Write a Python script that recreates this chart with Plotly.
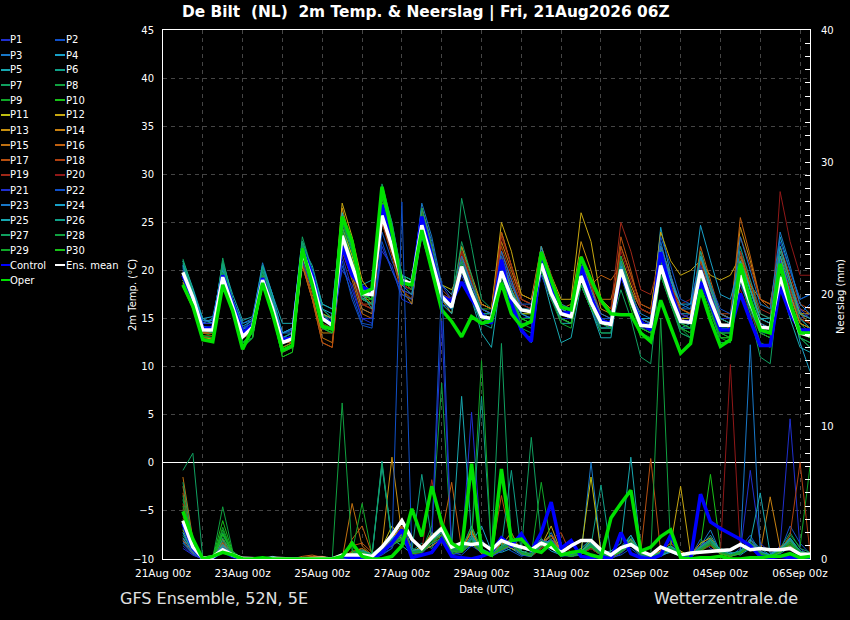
import plotly.graph_objects as go
import pandas as pd

# ---------------- time axis ----------------
run_first_step = "2026-08-21 12:00"
n_steps = 64
x_start = "2026-08-21 00:00"
x_end = "2026-09-06 06:00"

# ---------------- temperature (deg C), 6-hourly ----------------
t_mean = [19.8,17.2,13.8,13.8, 19.3,16.2,13.1,14.1, 19.0,16.1,12.5,12.9, 22.0,19.0,15.0,14.3, 23.6,20.5,17.6,17.5, 25.7,22.5,19.0,18.6, 24.7,21.1,17.3,16.2, 20.4,17.6,15.2,15.0, 19.9,17.2,15.9,15.7, 20.7,17.6,15.5,15.2, 19.4,16.7,14.6,14.4, 20.1,17.0,14.3,14.2, 20.5,17.3,14.7,14.6, 20.0,16.9,14.3,14.3, 19.5,16.6,14.1,14.0, 19.3,16.3,13.5,13.2]
t_ctrl = [19.5,17.0,14.0,14.0, 19.5,16.5,13.5,14.3, 19.2,16.0,12.8,13.0, 22.3,19.5,15.0,14.5, 22.5,19.5,18.3,17.8, 26.8,23.0,19.0,18.5, 25.6,21.5,17.3,16.8, 18.8,17.0,15.5,14.5, 21.1,16.6,13.8,12.6, 21.8,18.3,15.5,15.7, 20.4,17.3,14.8,14.5, 19.7,17.0,14.7,13.8, 21.9,18.0,14.7,14.7, 18.8,16.6,13.8,13.8, 17.6,14.8,12.2,12.2, 18.3,15.5,13.8,13.8]
t_oper = [18.5,16.3,12.8,12.6, 18.5,15.8,11.8,14.0, 18.7,15.5,11.7,12.2, 22.3,18.5,14.2,13.9, 25.6,23.0,17.6,18.1, 28.7,24.0,18.7,18.5, 24.2,20.0,15.9,14.7, 13.1,15.2,14.5,14.8, 18.7,15.5,14.2,14.7, 21.9,19.0,16.2,15.9, 21.4,19.0,16.9,15.5, 15.4,15.4,13.5,12.6, 16.9,14.1,11.4,12.4, 18.0,14.8,12.1,12.8, 20.7,16.9,13.8,13.5, 20.7,16.6,13.5,13.5]

t_p01 = [19.5,17.0,14.0,14.2, 19.0,16.0,13.5,14.3, 18.8,15.8,12.8,13.2, 21.5,18.5,15.5,14.8, 20.0,18.5,15.0,14.5, 22.0,20.5,17.0,16.5, 25.5,22.0,17.5,16.5, 19.5,17.0,15.0,14.8, 19.0,16.5,15.0,15.2, 21.0,17.5,16.0,15.5, 18.5,16.0,14.0,14.2, 19.5,16.5,14.0,13.8, 20.5,17.0,15.0,15.5, 21.5,18.0,15.0,14.5, 18.5,16.0,13.5,13.5, 20.5,17.5,15.0,15.5]
t_p02 = [20.2,17.5,14.2,14.0, 19.8,16.8,13.8,14.6, 19.5,16.5,13.0,13.5, 22.5,19.0,15.0,14.0, 21.0,17.0,14.3,14.0, 24.0,21.0,18.5,18.0, 24.0,20.5,17.0,16.0, 21.5,18.5,16.5,16.0, 20.5,18.0,16.0,15.5, 20.0,17.0,15.0,14.5, 19.0,16.5,14.5,14.8, 20.0,17.0,14.0,14.5, 22.0,19.0,16.0,16.5, 20.0,17.0,15.0,15.0, 20.5,17.5,14.0,13.5, 21.0,18.0,15.5,16.5]
t_p03 = [20.5,17.8,14.5,14.5, 20.0,17.0,14.5,15.0, 19.5,16.8,13.0,13.0, 22.0,19.5,15.5,15.0, 22.5,19.5,16.0,15.5, 25.0,22.0,19.5,19.0, 26.5,23.0,18.0,17.0, 21.0,18.0,15.5,15.0, 21.0,18.5,16.5,16.0, 22.0,18.5,16.0,15.5, 20.0,17.0,15.0,14.5, 20.5,17.5,15.5,15.0, 23.0,19.0,16.0,16.0, 21.0,18.0,15.5,15.0, 20.0,17.0,14.5,14.0, 20.0,18.0,15.0,14.0]
t_p04 = [20.0,17.5,14.5,15.0, 19.5,16.5,14.0,14.5, 19.5,16.0,13.5,13.8, 22.5,19.0,15.5,14.5, 23.5,20.0,17.0,17.5, 26.5,23.0,19.0,18.5, 24.0,21.0,17.5,17.0, 20.0,17.5,15.5,15.5, 20.5,17.5,16.0,16.0, 20.0,17.0,15.5,15.0, 18.5,16.0,14.5,14.5, 19.5,16.5,14.5,14.0, 24.5,19.5,15.5,15.5, 20.0,17.0,14.0,14.0, 22.0,18.0,15.0,15.0, 23.5,20.0,17.0,17.5]
t_p05 = [21.0,18.0,14.8,14.8, 20.5,17.0,14.0,14.0, 20.5,17.5,13.0,13.5, 22.5,20.5,16.5,16.0, 26.0,22.0,18.5,19.0, 26.0,22.5,19.0,18.5, 23.5,20.0,17.0,16.5, 20.0,17.0,14.5,14.5, 20.0,17.0,14.0,12.5, 20.0,16.0,12.5,13.0, 18.5,16.0,13.5,13.5, 20.0,16.5,14.0,13.5, 19.5,16.5,14.0,14.5, 19.0,16.0,13.5,13.5, 19.0,16.0,13.5,13.0, 18.5,15.0,12.0,11.5]
t_p06 = [20.8,17.8,14.8,14.5, 21.0,17.0,13.0,13.5, 19.5,16.5,12.0,12.5, 22.5,19.5,15.5,14.5, 24.0,21.0,18.0,18.0, 27.0,23.5,19.5,19.0, 25.5,21.5,17.0,15.5, 21.5,18.5,15.5,15.5, 19.5,17.0,15.5,15.0, 21.0,18.0,15.5,15.0, 20.0,17.5,14.0,14.0, 21.0,17.5,14.5,14.0, 22.5,18.5,15.0,14.5, 21.5,17.0,14.0,14.0, 20.0,17.0,14.5,14.0, 19.5,16.5,13.0,12.0]
t_p07 = [21.2,18.0,14.0,13.5, 21.3,17.0,12.5,13.5, 20.5,17.0,13.5,14.0, 23.5,20.0,15.5,15.0, 25.0,22.0,18.0,17.5, 28.5,24.5,19.0,18.5, 25.0,21.5,17.0,16.0, 27.5,22.5,17.0,16.0, 20.5,18.0,16.0,15.5, 21.5,18.0,15.5,15.0, 19.5,17.0,15.0,15.0, 21.0,17.5,15.0,14.5, 20.0,16.5,13.5,13.0, 20.5,17.0,14.5,14.0, 21.5,18.0,14.5,14.0, 21.5,17.5,14.5,13.5]
t_p08 = [19.0,16.5,13.5,13.5, 20.5,16.5,12.0,13.0, 20.0,16.5,12.0,12.5, 23.0,20.0,16.0,15.0, 25.0,21.5,17.0,16.5, 27.0,23.5,19.5,19.0, 26.0,22.5,18.0,17.0, 22.5,19.0,16.0,15.5, 21.0,18.0,14.0,13.5, 22.5,18.5,15.5,15.0, 20.0,16.5,13.5,13.5, 21.0,17.5,14.5,14.5, 21.5,17.5,14.0,13.0, 20.0,16.5,13.0,13.0, 19.5,16.0,12.5,12.0, 20.5,17.0,14.0,13.0]
t_p09 = [19.5,17.0,13.5,13.2, 19.0,16.0,12.5,13.5, 19.0,16.0,12.0,12.5, 21.0,18.5,14.5,14.0, 24.5,21.0,17.5,17.0, 25.5,22.0,18.5,18.0, 24.5,21.0,17.0,16.5, 21.5,18.5,16.0,16.0, 20.5,17.5,15.5,15.5, 21.0,17.5,15.0,14.5, 19.0,16.5,15.0,15.0, 20.0,17.0,14.0,13.5, 20.0,17.0,14.5,14.5, 19.5,16.0,13.5,13.5, 19.0,16.5,14.0,14.0, 19.5,16.5,14.5,14.0]
t_p10 = [18.7,16.5,13.0,13.0, 18.5,16.0,13.0,14.0, 18.5,15.5,11.5,12.0, 22.0,18.5,14.5,14.0, 22.5,20.0,17.0,17.0, 26.5,23.0,19.0,18.5, 24.5,21.5,17.5,16.5, 20.5,17.5,15.0,15.0, 19.5,17.0,15.0,14.5, 20.5,17.5,15.5,15.0, 18.5,16.0,14.0,14.0, 19.5,16.0,13.0,13.0, 20.5,17.0,14.0,13.5, 18.5,15.5,13.0,13.0, 20.0,16.5,13.5,13.0, 18.5,16.0,13.0,12.5]
t_p11 = [19.0,16.5,12.8,13.0, 19.5,16.5,13.5,14.0, 19.5,16.0,12.5,13.0, 22.5,19.0,15.0,14.5, 24.5,21.5,18.0,17.5, 25.5,22.5,19.0,18.5, 25.0,21.5,18.5,18.0, 20.0,17.5,15.5,15.0, 21.0,18.0,15.5,15.5, 22.0,18.5,16.0,15.5, 21.5,18.0,15.0,14.5, 20.5,17.5,15.0,15.0, 21.0,18.0,15.0,15.0, 20.0,17.0,14.5,14.0, 20.0,17.0,14.5,14.0, 20.0,17.5,14.5,14.0]
t_p12 = [20.0,17.5,14.0,14.0, 19.5,16.5,13.5,14.0, 19.5,16.0,12.5,13.0, 22.0,19.5,15.5,15.0, 27.0,23.5,19.0,17.5, 26.5,23.0,19.0,18.0, 25.0,22.0,18.5,17.5, 21.5,19.0,16.5,16.0, 25.0,22.0,17.5,17.0, 22.5,19.5,17.0,17.0, 26.0,23.0,17.0,16.0, 21.5,18.5,16.0,15.5, 24.0,21.0,19.5,20.0, 21.0,19.5,19.0,19.5, 21.5,18.5,17.0,16.5, 21.0,18.0,15.5,15.5]
t_p13 = [19.3,17.0,13.5,13.5, 19.0,16.0,13.0,13.8, 18.5,16.0,12.5,13.0, 21.5,18.5,15.0,14.5, 26.5,22.5,17.5,16.5, 27.0,23.0,18.0,16.5, 25.0,21.5,17.5,16.5, 22.5,19.5,16.5,16.0, 24.0,20.5,17.5,17.0, 20.5,17.5,16.0,16.5, 23.0,20.0,16.0,15.5, 22.5,19.5,16.5,16.0, 22.5,19.5,16.0,15.5, 21.5,18.5,15.5,15.0, 24.5,21.0,17.0,16.5, 22.5,19.0,15.5,14.5]
t_p14 = [18.8,16.5,13.5,13.5, 19.5,16.5,13.5,14.0, 19.0,16.0,12.5,13.0, 20.5,17.0,13.5,13.5, 24.0,20.5,16.5,16.0, 25.5,22.0,18.5,18.0, 26.5,22.5,17.0,15.5, 22.0,19.0,16.0,15.5, 23.0,20.0,17.0,16.5, 21.5,18.0,15.5,15.5, 21.5,18.5,15.0,14.5, 21.0,18.0,15.0,14.5, 20.0,17.5,15.0,14.5, 22.0,18.5,15.0,14.5, 21.0,18.0,15.0,14.5, 21.5,18.5,15.5,15.0]
t_p15 = [18.5,16.5,13.0,13.0, 18.8,16.0,13.0,13.8, 18.5,15.5,12.0,12.5, 21.0,17.5,13.0,12.5, 22.5,19.5,16.0,15.5, 25.5,22.0,18.0,17.5, 24.5,21.5,17.5,16.5, 21.0,18.5,16.5,16.0, 21.5,18.5,16.0,15.5, 20.5,17.5,15.0,14.5, 20.5,18.5,17.0,17.0, 21.0,18.0,15.0,14.5, 21.5,18.5,16.0,15.5, 21.0,18.0,15.5,15.0, 22.0,18.5,15.0,14.5, 20.5,17.5,14.5,14.0]
t_p16 = [18.3,16.0,12.8,12.8, 18.5,15.8,13.0,13.5, 18.5,15.5,11.5,12.0, 20.5,17.0,12.5,12.0, 22.0,19.0,15.5,15.0, 26.0,22.5,18.0,17.0, 24.0,21.0,17.5,17.0, 20.5,17.5,15.5,15.0, 22.0,19.0,16.0,15.5, 21.0,18.0,15.5,15.0, 20.0,18.5,19.5,19.0, 20.5,18.0,16.0,15.5, 21.0,18.0,15.5,15.0, 22.5,19.0,15.5,15.0, 25.5,21.5,17.0,16.0, 21.0,18.0,15.0,14.5]
t_p17 = [18.5,16.2,13.2,13.2, 18.8,16.0,13.5,14.0, 18.8,16.0,12.5,12.5, 21.0,17.0,12.5,12.0, 23.0,20.0,16.5,16.0, 25.0,21.5,17.5,17.0, 25.0,21.5,17.0,16.5, 21.5,18.5,16.0,15.5, 24.0,20.5,17.0,16.5, 21.5,18.0,15.5,15.0, 20.5,17.5,15.0,15.0, 23.5,20.0,16.0,15.5, 21.0,18.5,16.0,15.5, 20.5,17.5,15.0,14.5, 21.5,18.5,15.5,15.0, 22.0,19.0,16.0,15.5]
t_p18 = [19.0,16.8,13.5,13.5, 19.2,16.5,13.5,14.0, 19.5,16.5,12.5,13.0, 21.5,18.0,14.0,13.5, 23.0,20.0,16.5,16.5, 25.0,22.0,18.5,18.0, 25.5,22.0,17.5,16.5, 22.0,19.0,16.0,15.5, 22.5,19.5,16.5,16.0, 22.0,19.0,16.0,15.5, 21.5,18.5,15.5,15.0, 22.5,19.5,16.5,16.0, 20.5,17.5,15.0,14.5, 21.0,18.0,15.5,15.5, 23.5,20.5,17.0,16.5, 22.5,19.5,16.5,16.0]
t_p19 = [19.3,17.0,13.8,13.8, 19.5,16.5,13.5,14.0, 19.0,16.0,12.5,13.0, 21.5,18.5,15.0,14.5, 23.5,20.5,17.0,16.5, 25.0,22.0,18.5,18.0, 24.5,21.5,17.5,17.0, 21.5,18.5,16.0,15.5, 23.5,20.5,17.0,16.5, 22.5,19.5,16.5,16.0, 21.5,18.5,16.5,16.0, 25.0,22.0,18.0,17.5, 21.5,18.5,15.5,15.0, 20.5,17.5,14.5,14.0, 22.0,19.0,16.0,15.5, 21.0,18.0,15.0,14.5]
t_p20 = [19.5,17.2,14.0,14.0, 19.5,16.5,13.5,14.0, 19.0,16.0,12.5,13.0, 21.0,18.0,14.5,14.0, 23.0,20.0,16.5,16.0, 25.5,22.5,18.5,18.0, 25.0,22.0,18.0,17.0, 22.0,19.0,16.0,15.5, 22.0,19.0,16.5,16.0, 21.0,18.0,15.5,15.0, 20.5,17.5,15.0,15.0, 22.0,19.0,16.0,15.5, 21.0,18.0,16.5,17.0, 20.0,17.0,15.0,14.5, 18.0,15.5,13.5,13.0, 28.2,23.0,19.5,19.5]
t_p21 = [20.0,17.5,14.5,14.5, 19.0,16.5,14.0,14.5, 18.5,16.0,13.5,14.0, 22.0,18.5,14.0,13.5, 21.5,18.0,15.0,15.0, 22.5,20.0,18.0,17.5, 25.0,22.0,18.5,17.0, 20.0,17.5,15.5,15.0, 20.5,17.5,15.5,15.0, 19.5,17.0,15.0,15.0, 18.5,16.0,14.0,14.0, 20.0,17.0,14.5,14.5, 21.0,18.0,15.5,15.0, 20.5,17.5,15.0,15.0, 19.0,16.5,14.0,13.5, 21.0,18.5,16.0,15.0]
t_p22 = [20.3,17.6,14.6,14.8, 19.5,16.5,14.0,14.8, 19.0,16.5,13.5,13.8, 21.0,18.0,14.0,13.5, 20.5,17.5,14.5,14.3, 23.0,20.0,17.5,17.0, 24.0,20.5,16.5,16.0, 21.0,18.5,16.0,15.5, 21.5,18.5,16.5,16.5, 21.0,18.0,16.0,16.0, 20.0,17.0,15.0,15.0, 21.0,18.0,15.0,14.5, 23.5,20.5,17.0,16.5, 21.5,18.5,16.0,15.5, 19.5,17.0,14.5,14.0, 23.0,20.0,17.0,17.5]
t_p23 = [20.5,18.0,14.8,14.8, 20.5,17.0,14.5,14.8, 20.8,17.5,13.5,13.5, 22.5,19.5,15.0,14.5, 23.5,20.5,17.0,16.5, 28.5,25.0,19.5,18.5, 27.0,23.5,18.5,17.5, 21.5,18.5,16.0,15.5, 22.0,19.0,16.0,15.5, 21.5,18.5,16.5,16.0, 21.0,18.0,15.5,15.0, 20.5,17.5,15.0,14.5, 22.5,19.5,16.5,16.0, 21.5,18.5,15.5,15.0, 23.5,20.0,16.5,16.0, 24.0,20.5,16.5,15.5]
t_p24 = [20.6,17.8,15.0,15.2, 20.0,16.8,14.2,14.8, 20.0,17.0,13.5,14.0, 23.0,20.0,16.0,15.5, 25.5,22.0,18.0,17.5, 26.0,22.5,19.0,18.5, 24.5,21.0,17.0,16.0, 21.0,18.0,15.5,15.0, 21.0,18.0,15.5,15.0, 22.5,19.0,16.0,15.5, 19.5,17.0,14.5,14.0, 20.5,17.5,15.0,15.0, 22.0,19.0,16.5,16.5, 24.7,21.0,17.5,17.0, 21.0,18.0,15.0,14.5, 21.5,17.5,12.5,9.5]
t_p25 = [21.0,18.2,15.0,14.5, 20.8,17.5,14.8,15.2, 20.5,17.5,14.5,14.5, 22.5,20.0,16.5,16.0, 26.0,22.5,17.5,16.0, 26.5,23.0,18.5,17.5, 24.0,20.5,16.5,15.5, 20.5,17.0,13.5,12.0, 19.5,16.5,13.5,13.0, 21.0,17.5,14.5,14.5, 19.0,16.0,13.0,13.0, 20.0,17.0,14.5,14.0, 20.5,17.5,14.0,14.0, 21.5,18.0,15.0,14.5, 21.0,18.0,15.0,14.5, 22.5,19.0,15.5,15.0]
t_p26 = [20.4,17.5,14.2,14.0, 20.5,17.0,12.5,13.0, 20.5,17.0,13.0,13.5, 23.0,20.0,16.0,15.0, 23.5,20.5,17.5,17.0, 27.5,24.0,19.5,19.0, 25.0,21.5,17.5,16.5, 20.0,17.0,14.5,14.0, 20.5,17.5,15.0,14.5, 21.5,18.0,15.0,14.5, 20.5,17.5,14.5,14.5, 21.0,17.5,14.5,14.0, 21.5,18.0,14.5,14.0, 22.0,18.5,15.0,14.5, 22.5,19.0,15.5,15.0, 22.0,18.5,15.0,14.0]
t_p27 = [21.0,17.8,13.8,13.5, 21.0,16.5,12.0,13.0, 20.0,16.5,12.5,13.0, 23.0,19.5,15.0,14.5, 24.5,21.0,17.0,16.5, 29.0,25.0,19.5,18.5, 26.5,22.5,17.5,16.5, 23.0,19.5,15.5,14.5, 20.0,17.0,14.5,14.5, 20.5,17.5,15.5,15.0, 19.5,16.5,14.0,14.0, 18.0,15.0,11.0,10.3, 20.5,17.0,13.5,13.0, 19.5,16.0,12.5,12.5, 19.0,15.5,11.0,10.3, 19.5,16.0,13.0,12.5]
t_p28 = [19.8,17.0,13.2,13.0, 19.8,16.0,12.0,13.0, 19.5,16.0,11.5,12.0, 22.5,19.5,15.5,14.5, 25.5,22.0,17.5,17.0, 28.0,24.5,19.0,18.0, 25.5,22.0,17.5,16.5, 21.0,18.0,15.0,14.5, 20.0,17.0,14.5,14.0, 22.0,18.5,15.5,15.0, 20.0,17.5,15.0,14.5, 21.5,18.0,14.5,14.0, 21.0,17.5,14.0,13.5, 20.0,16.5,13.5,13.0, 20.5,17.0,13.5,13.0, 20.0,16.5,13.0,12.0]
t_p29 = [19.0,16.8,13.2,13.0, 18.8,16.0,12.5,13.5, 18.5,15.5,11.0,11.5, 21.5,18.5,14.0,13.5, 24.0,21.0,17.5,17.0, 27.0,23.5,19.0,18.5, 24.0,20.5,17.0,16.5, 20.5,17.5,15.5,15.0, 19.0,16.5,15.0,15.0, 20.0,17.0,14.5,14.0, 19.0,16.5,14.5,14.0, 20.0,16.5,13.5,13.0, 19.5,16.5,14.0,13.5, 19.0,16.0,13.0,12.5, 19.5,16.5,13.5,13.0, 19.5,16.5,13.5,13.0]
t_p30 = [18.6,16.5,12.8,12.8, 18.5,15.5,12.0,13.0, 18.5,15.5,11.0,11.5, 22.0,18.5,14.0,13.5, 23.0,20.5,17.5,17.0, 27.5,24.0,19.5,18.5, 24.5,21.0,17.5,16.5, 20.5,17.5,15.0,14.5, 19.5,17.0,15.0,14.5, 20.5,17.5,15.0,14.5, 18.5,16.0,14.5,14.5, 19.5,16.5,14.0,13.5, 20.5,17.5,14.5,14.0, 19.5,16.5,13.5,13.0, 20.0,17.0,14.0,13.5, 19.5,16.5,13.5,13.0]

# ---------------- precipitation (mm per 6 h) ----------------
r_mean = [2.9,0.9,0.05,0.15,0.7,0.3,0.05,0, 0,0.05,0,0,0,0.05,0.05,0, 0.3,0.3,0.3,0.2,0.9,1.8,2.9,1.5, 0.8,1.6,2.3,0.9,1.2,1.1,1.2,0.7, 1.4,1.1,0.9,0.7,1.2,0.9,0.5,1.0, 1.4,1.4,0.7,0.3,0.85,1.1,0.6,0.3, 0.9,0.6,0.3,0.45,0.5,0.6,0.6,0.7, 1.1,0.7,0.8,0.7,0.7,0.8,0.35,0.35]
r_ctrl = [2.7,0.8,0,0.1,0.6,0.2,0,0, 0,0,0,0,0,0,0,0, 0.2,0.1,0,0,0.5,1.2,2.2,0.1, 0.3,0.5,1.5,0.2,0.1,0,0.2,0.5, 1.6,1.0,1.9,0.6,2.0,4.3,0.8,1.4, 0.2,0.1,0.2,0,2.0,0.4,0.1,0, 0.3,1.8,0.2,0,4.9,2.8,2.3,1.9, 1.5,1.0,0.2,0.1,0.2,0.1,0,0]
r_oper = [3.6,1.5,0,0.2,0.5,0.3,0,0, 0.1,0,0,0,0,0,0,0, 0.2,1.2,0.2,0,0,0.2,1.0,3.8, 1.7,5.5,2.7,1.2,0.7,7.2,0.6,0.3, 6.8,1.4,1.5,0.7,0.5,1.2,0.3,0.5, 0.6,0.3,0.1,3.1,4.2,5.2,0.6,0.9, 1.7,2.2,0.1,0,0.1,0.1,0.2,0, 0,0.1,0.1,0.2,0.2,0.4,0.1,0.2]

r_p01 = [0.8,0.3,0,0.1,0.6,0.2,0,0, 0,0,0,0,0,0,0,0, 0,0.3,0.2,0,0.5,1.0,1.5,0.3, 0.4,1.2,2.0,0.3,0.5,11.1,0.8,0.2, 0.6,1.5,0.4,0.2,1.0,1.8,0.3,0.2, 0.5,0.8,0.3,0,0.4,1.2,0.2,0, 0.3,0.6,0.2,0.1,0.8,1.5,0.6,0.3, 0.5,1.2,0.3,0.2,1.0,10.6,0.8,0.2]
r_p02 = [1.5,0.6,0,0,0.8,0.3,0,0, 0,0,0,0,0,0,0,0, 0,0.2,0.1,0,0.3,0.8,2.5,0.6, 0.8,1.5,21.0,0.5,0.3,1.0,1.5,0.4, 1.0,0.6,0.2,0.5,1.5,0.8,0.2,0.3, 0.6,1.2,0.4,0.1,0.3,0.8,0.2,0.1, 0.5,1.0,0.3,0.2,1.5,0.8,0.4,0.2, 0.8,1.8,0.5,0.3,0.6,2.5,1.2,0.4]
r_p03 = [2.0,0.5,0,0.1,1.0,0.3,0,0, 0,0.1,0,0,0,0,0,0, 0,0,0.3,0.1,0.6,1.2,3.0,0.8, 0.5,2.0,1.5,0.6,0.8,2.5,0.5,0.3, 0.8,1.2,0.5,0.3,0.9,2.0,0.5,0.2, 0.3,7.3,0.6,0.2,0.5,1.0,0.3,0, 0.4,0.8,0.3,0.2,1.0,2.2,0.5,0.2, 0.4,0.9,0.2,0.1,0.5,1.5,0.6,0.3]
r_p04 = [1.2,0.4,0,0,0.7,0.2,0,0.1, 0,0,0,0,0,0,0,0, 0,0.1,0.4,0.2,0.8,1.5,2.0,0.5, 0.6,1.0,2.5,0.8,0.5,1.2,2.5,0.6, 0.5,0.8,0.3,0.2,1.2,0.6,0.3,0.4, 0.8,1.5,0.5,0.2,0.6,1.8,0.4,0.1, 0.2,0.6,0.2,0.4,0.9,1.2,0.8,0.5, 0.3,0.8,0.4,0.2,0.6,1.0,0.5,0.2]
r_p05 = [2.5,0.8,0,0.1,0.9,0.4,0,0, 0,0.2,0,0,0,0,0,0, 0,0.2,0.5,0.3,7.0,1.5,1.0,0.4, 0.8,1.5,1.8,0.5,0.9,2.0,0.6,0.3, 0.6,1.0,0.4,0.8,1.5,1.0,0.4,0.2, 0.4,0.9,0.5,0.6,1.2,7.7,0.6,0.2, 0.3,0.5,0.2,0.3,1.0,1.8,0.6,0.3, 0.5,1.5,0.8,0.3,0.4,0.9,0.3,0.2]
r_p06 = [1.8,0.6,0,0,1.2,0.3,0.1,0, 0,0,0,0,0,0,0,0, 0,0.3,0.6,0.2,0.5,1.0,1.8,0.6, 1.2,0.8,2.2,1.0,0.6,1.5,12.3,0.5, 0.8,1.5,0.4,0.3,1.2,0.8,0.3,0.5, 0.6,1.0,5.6,0.4,0.8,1.5,0.5,0.2, 0.4,0.7,0.2,0.2,0.6,1.4,0.5,0.4, 0.6,1.2,0.5,0.2,0.8,1.5,0.4,0.3]
r_p07 = [6.7,8.0,0,0.2,2.0,0.5,0,0, 0,0,0,0,0,0,0,0, 0.2,0.5,0.8,0.2,0.6,1.5,2.5,0.8, 0.5,1.8,2.5,0.6,1.0,2.0,0.8,0.4, 16.3,1.0,0.5,0.3,0.8,1.5,0.6,0.2, 0.5,1.2,0.4,0.3,0.9,1.0,0.3,0.1, 0.6,0.8,0.3,0.2,1.2,1.6,0.6,0.3, 0.4,1.0,0.3,0.2,0.8,2.0,0.8,0.5]
r_p08 = [4.5,1.2,0,0.1,3.95,0.6,0,0, 0,0,0,0,0,0,0,0, 0,0.4,0.3,0.1,0.8,1.2,2.0,0.5, 0.6,2.5,13.3,0.8,0.6,1.5,0.5,0.3, 0.8,1.2,0.6,0.4,1.5,0.9,0.3,0.2, 0.6,1.5,0.6,0.2,0.7,1.0,0.3,0.2, 0.5,0.9,0.4,0.2,0.8,1.2,0.5,0.3, 0.6,1.4,0.5,0.3,0.7,1.6,0.6,0.4]
r_p09 = [3.5,1.0,0,0,2.4,0.4,0,0, 0,0,0,0,0,0,0,0, 0,0.2,0.5,0.3,0.6,1.8,1.5,0.4, 0.7,1.2,2.0,0.5,0.8,1.5,15.0,0.6, 1.0,2.0,0.5,0.3,1.0,1.2,0.5,0.3, 0.4,0.8,0.3,0.2,0.5,1.2,0.4,0.2, 0.6,1.0,0.3,0.2,0.7,1.5,0.6,0.3, 0.4,1.0,0.4,0.2,0.6,1.8,0.9,7.0]
r_p10 = [3.0,0.9,0,0.1,2.9,0.5,0,0, 0,0,0,0,0,0,0,0, 0,0.3,0.4,0.2,0.5,1.0,2.2,0.6, 0.5,1.5,1.8,0.4,0.6,2.5,0.7,0.3, 0.7,1.5,0.4,0.3,1.3,0.8,0.4,0.3, 0.5,1.0,0.4,0.2,0.6,1.5,0.4,0.1, 0.4,0.8,0.3,0.2,1.0,6.4,0.8,0.3, 0.5,1.2,0.4,0.3,0.7,1.5,0.6,0.3]
r_p11 = [2.2,0.7,0,0,1.0,0.3,0,0, 0,0,0,0,0,0,0,0, 0,0.5,0.8,0.3,0.9,2.5,1.5,0.5, 1.0,1.5,2.0,1.2,0.8,1.5,0.6,0.3, 1.2,0.8,0.5,0.3,1.5,1.0,0.4,0.3, 0.6,6.2,0.5,0.3,0.8,1.2,0.4,0.2, 0.3,0.8,0.6,0.2,0.9,1.4,0.5,0.2, 0.6,1.5,0.5,0.2,0.5,1.2,0.6,0.3]
r_p12 = [1.6,0.5,0,0.1,0.8,0.2,0,0, 0,0,0,0,0,0,0,0, 0,0.6,0.5,0.2,0.6,1.8,2.0,0.6, 0.8,2.0,1.5,0.8,0.6,2.2,0.5,0.2, 0.9,1.2,0.4,0.2,1.0,2.5,0.5,0.4, 0.5,1.4,0.6,0.2,0.7,1.0,0.5,0.2, 0.5,1.0,5.5,0.3,0.8,1.2,0.4,0.2, 0.5,0.9,0.3,0.2,0.6,1.4,0.5,0.2]
r_p13 = [2.8,0.6,0,0,1.5,0.4,0,0, 0,0,0,0,0,0,0,0, 0,0.4,0.6,0.2,1.0,7.7,1.8,0.5, 0.6,1.5,2.5,0.9,0.7,1.8,0.6,0.3, 1.0,1.5,0.6,0.3,1.2,1.8,0.6,0.3, 0.6,1.0,0.4,0.2,0.6,1.5,0.5,0.2, 0.4,0.9,0.4,0.3,1.2,1.6,0.6,0.3, 0.5,1.0,0.4,0.2,0.8,1.2,0.5,0.3]
r_p14 = [1.4,0.4,0,0,0.9,0.3,0,0, 0,0,0,0,0,0.1,0.2,0, 0,0.3,0.4,0.1,0.7,1.5,2.5,0.4, 0.6,1.0,1.5,0.6,0.5,1.2,0.4,0.2, 0.7,1.0,0.4,0.2,0.8,1.5,0.5,0.2, 0.4,0.8,0.3,0.1,0.5,1.2,0.4,0.3, 0.6,1.2,0.5,0.2,0.8,1.0,0.4,0.2, 0.6,1.2,0.5,4.7,0.8,1.0,0.4,0.2]
r_p15 = [6.2,1.5,0,0.1,1.2,0.3,0,0, 0,0,0,0,0.1,0.2,0,0, 0,4.2,1.0,0.3,0.5,1.2,1.5,0.5, 0.8,1.8,2.0,1.0,0.6,1.5,0.7,0.3, 1.0,2.0,0.5,0.3,1.0,1.5,0.6,0.2, 0.5,0.9,0.4,0.2,0.6,1.4,0.5,0.3, 0.5,0.8,0.4,0.2,1.0,1.5,0.5,0.2, 0.6,1.1,0.4,0.3,0.9,1.4,0.6,0.3]
r_p16 = [5.5,1.2,0,0.1,1.0,0.4,0,0, 0,0,0,0,0.2,0.3,0.1,0, 0,1.5,2.5,0.4,0.8,1.0,2.0,0.6, 0.6,1.2,1.8,5.8,0.8,2.0,0.6,0.4, 1.2,1.5,0.5,0.3,1.0,1.8,0.5,0.3, 0.4,1.2,0.5,0.2,0.8,1.0,0.4,0.2, 0.4,1.0,0.4,0.2,0.9,1.4,0.5,0.3, 0.5,1.0,0.6,0.2,0.7,1.5,0.5,0.2]
r_p17 = [5.0,1.0,0,0,1.3,0.3,0,0, 0,0,0,0,0,0.2,0.2,0, 0,1.0,1.2,0.5,0.6,1.5,1.8,0.4, 0.5,1.5,2.2,0.8,0.6,1.5,0.5,0.3, 4.8,1.2,0.4,0.3,1.2,1.0,0.4,0.2, 0.5,1.0,0.4,0.2,0.6,1.0,0.5,7.6, 0.5,0.8,0.3,0.2,0.8,1.2,0.4,0.2, 0.5,1.0,0.4,0.3,0.8,1.5,0.6,0.3]
r_p18 = [4.2,0.9,0,0.1,1.0,0.3,0,0, 0,0,0,0,0,0,0,0, 0,0.6,0.8,0.2,0.5,1.2,2.5,0.6, 0.7,1.5,1.8,0.9,0.5,1.2,0.6,0.4, 0.8,1.2,0.5,0.3,1.0,1.5,2.0,0.3, 0.5,0.9,0.4,0.2,0.6,1.2,0.4,0.2, 0.4,0.9,0.3,0.2,0.8,1.2,0.5,0.3, 0.6,1.2,0.5,0.2,0.6,1.8,7.3,0.5]
r_p19 = [3.8,0.8,0,0,0.9,0.2,0,0, 0,0,0,0,0,0,0,0, 0,0.4,0.6,0.2,0.8,1.5,2.0,0.5, 0.6,6.0,2.0,0.8,0.5,1.5,0.6,0.3, 0.8,1.5,0.4,0.2,1.0,1.2,0.4,0.2, 0.4,0.8,0.3,0.2,0.5,1.0,0.4,0.2, 0.4,0.8,0.3,0.2,0.6,1.2,0.5,0.3, 0.5,0.9,0.4,0.2,0.6,1.2,0.5,0.3]
r_p20 = [3.2,0.7,0,0,0.8,0.2,0,0, 0,0,0,0,0,0,0,0, 0,0.3,0.5,0.2,0.6,1.2,1.8,0.4, 0.5,1.2,1.8,0.7,0.5,1.2,0.5,0.3, 0.7,1.2,0.4,0.2,0.8,1.2,0.4,0.2, 0.4,0.8,0.3,0.2,0.5,1.0,0.4,0.2, 0.4,0.8,0.3,0.2,0.6,1.0,0.5,14.7, 0.6,1.0,0.4,0.2,0.6,1.2,0.5,0.3]
r_p21 = [1.0,0.3,0,0.1,0.6,0.2,0,0, 0,0,0,0,0,0,0,0, 0,0.2,0.3,0.1,0.5,1.2,2.0,0.6, 0.6,1.5,18.0,0.6,0.5,1.5,0.6,0.3, 0.8,1.2,0.5,0.3,1.5,1.0,0.5,0.2, 0.4,1.0,0.4,0.2,0.6,1.2,0.4,0.1, 0.4,0.8,0.3,0.2,1.0,1.5,0.6,0.3, 0.5,6.7,1.2,0.5,0.6,1.5,0.5,0.2]
r_p22 = [1.3,0.4,0,0,0.7,0.2,0,0, 0,0,0,0,0,0,0,0, 0,0.2,0.4,0.2,0.4,0.8,27.0,0.5, 0.5,1.2,1.5,0.6,0.6,1.0,0.5,0.2, 0.6,1.0,0.3,0.2,1.0,1.5,0.4,0.2, 0.4,0.9,0.3,0.2,0.5,1.0,0.3,0.1, 0.3,0.8,0.3,0.2,0.8,1.2,0.5,0.3, 0.6,1.5,0.5,0.3,0.8,1.2,0.4,0.2]
r_p23 = [1.6,0.5,0,0.1,0.9,0.3,0,0, 0,0,0,0,0,0,0,0, 0,0.3,0.5,0.2,0.7,1.5,2.2,0.5, 0.6,1.6,2.0,0.7,0.6,1.8,0.6,0.3, 0.8,1.3,0.4,0.2,1.2,1.4,0.5,0.2, 0.4,1.0,0.4,0.2,0.6,1.2,0.4,0.2, 0.4,0.9,0.4,0.2,0.8,1.3,0.5,0.3, 0.6,16.2,0.6,0.3,0.8,1.5,0.6,0.3]
r_p24 = [2.0,0.6,0,0,1.1,0.3,0,0, 0,0,0,0,0,0,0,0, 0,0.3,0.6,0.2,0.8,1.6,2.0,0.6, 0.8,1.5,2.2,0.8,0.7,1.6,0.7,0.3, 0.9,1.4,0.5,0.3,1.3,1.2,0.5,0.3, 0.5,1.1,0.5,0.2,0.7,1.4,0.5,0.2, 0.5,1.0,0.4,0.2,0.9,1.4,0.6,0.3, 0.5,1.2,0.5,0.3,0.7,1.6,0.6,0.3]
r_p25 = [2.6,0.7,0,0.1,1.0,0.4,0,0, 0,0,0,0,0,0,0,0, 0,0.3,0.6,0.4,1.0,1.5,1.8,0.5, 0.7,1.4,2.0,0.9,12.3,1.8,0.7,0.4, 0.9,1.5,0.6,0.3,1.2,1.3,0.6,0.3, 0.6,1.3,0.6,0.3,0.9,1.8,0.5,0.2, 0.5,1.0,0.4,0.3,0.9,1.5,0.7,0.4, 0.6,1.3,5.0,0.4,0.8,1.4,0.6,0.3]
r_p26 = [2.3,0.6,0,0,1.4,0.3,0,0, 0,0,0,0,0,0,0,0, 0,0.4,0.7,0.3,7.4,1.4,1.6,0.6, 6.4,1.5,2.0,0.8,0.8,1.6,0.7,0.3, 1.0,6.7,0.5,0.3,1.3,1.2,0.5,0.3, 0.5,1.2,0.5,0.3,0.8,1.6,0.5,0.2, 0.5,0.9,0.4,0.2,0.9,1.4,0.6,0.3, 0.6,1.2,0.5,0.2,0.7,1.5,0.6,0.3]
r_p27 = [5.8,1.3,0,0.1,1.6,0.4,0,0, 0,0,0,0,0,0,0,0, 0,0.4,0.6,0.3,7.2,1.2,1.8,0.6, 0.6,1.5,2.2,0.8,0.7,1.5,0.6,0.3, 1.0,1.5,0.6,9.2,1.4,1.0,0.5,0.3, 0.5,1.1,0.5,0.2,0.7,1.4,0.5,0.2, 0.5,0.9,0.4,0.2,0.8,1.5,0.6,0.3, 0.6,1.2,0.5,0.2,0.7,1.4,0.6,0.3]
r_p28 = [4.8,1.1,0,0,1.8,0.5,0,0, 0,0,0,0,0,0,0,0, 11.8,0.6,0.5,0.2,0.6,1.3,1.6,0.5, 0.7,1.4,1.8,0.7,0.6,1.4,0.6,0.3, 0.9,1.3,0.5,0.3,1.2,1.1,0.4,0.2, 0.5,1.0,0.4,0.2,0.6,1.3,0.5,0.2, 18.2,0.8,0.4,0.2,0.8,1.3,0.5,0.3, 0.5,1.1,0.4,0.2,0.6,1.3,0.5,0.3]
r_p29 = [4.0,1.0,0,0.1,2.2,0.4,0,0, 0,0,0,0,0,0,0,0, 0,0.5,4.2,0.3,0.5,1.2,1.5,0.5, 0.6,1.3,1.8,0.7,0.6,1.3,0.6,0.3, 0.8,1.2,0.5,0.3,5.8,1.0,0.4,0.2, 0.5,1.0,0.4,0.2,0.6,1.2,0.4,0.2, 0.4,0.8,0.3,0.2,0.7,1.2,0.5,0.3, 0.5,1.0,0.4,0.2,0.6,1.2,0.5,0.3]
r_p30 = [3.4,0.9,0,0,1.9,0.4,0,0, 0,0,0,0,0,0,0,0, 0,0.4,0.5,0.2,0.6,1.1,1.4,0.4, 0.5,1.2,1.6,0.6,0.5,1.2,0.5,0.3, 0.7,1.1,0.4,0.2,1.0,0.9,0.4,0.2, 0.4,0.9,0.3,0.2,0.5,1.1,0.4,0.2, 0.4,0.7,0.3,0.2,0.6,1.1,0.4,0.2, 0.4,0.9,0.3,0.2,0.5,1.1,0.4,0.2]

# ---------------- colours ----------------
member_colors_base = ["#2030d0", "#1050c8", "#1878c8", "#18a0c8", "#18a8b0",
                      "#10a088", "#10a060", "#10a040", "#10a828", "#18c018",
                      "#c0c010", "#c8a810", "#c89010", "#c88010", "#c07010",
                      "#c06010", "#b85010", "#b04010", "#a02818", "#901818"]
member_colors = member_colors_base + member_colors_base[:10]
ctrl_color = "#0000ff"
oper_color = "#00e000"
mean_color = "#ffffff"
grid_color = "#454545"

member_names = [f"P{k}" for k in range(1, 31)]
temp_members = [t_p01, t_p02, t_p03, t_p04, t_p05, t_p06, t_p07, t_p08, t_p09, t_p10,
                t_p11, t_p12, t_p13, t_p14, t_p15, t_p16, t_p17, t_p18, t_p19, t_p20,
                t_p21, t_p22, t_p23, t_p24, t_p25, t_p26, t_p27, t_p28, t_p29, t_p30]
rain_members = [r_p01, r_p02, r_p03, r_p04, r_p05, r_p06, r_p07, r_p08, r_p09, r_p10,
                r_p11, r_p12, r_p13, r_p14, r_p15, r_p16, r_p17, r_p18, r_p19, r_p20,
                r_p21, r_p22, r_p23, r_p24, r_p25, r_p26, r_p27, r_p28, r_p29, r_p30]

for lst_name, arr in [("t_mean", t_mean), ("t_ctrl", t_ctrl), ("t_oper", t_oper),
                      ("r_mean", r_mean), ("r_ctrl", r_ctrl), ("r_oper", r_oper)]:
    if len(arr) != n_steps:
        raise ValueError(f"{lst_name} has {len(arr)} values")
for k, (ta, ra) in enumerate(zip(temp_members, rain_members)):
    if len(ta) != n_steps or len(ra) != n_steps:
        raise ValueError(f"member {k+1}: temp {len(ta)}, rain {len(ra)}")

times = pd.date_range(run_first_step, periods=n_steps, freq="6h")

fig = go.Figure()

# temperature on left axis
for name, col, vals in zip(member_names, member_colors, temp_members):
    fig.add_trace(go.Scatter(x=times, y=vals, mode="lines", name=name,
                             line=dict(color=col, width=1), showlegend=False, yaxis="y"))
fig.add_trace(go.Scatter(x=times, y=t_ctrl, mode="lines", name="Control",
                         line=dict(color=ctrl_color, width=3.5), showlegend=False, yaxis="y"))
fig.add_trace(go.Scatter(x=times, y=t_mean, mode="lines", name="Ens. mean",
                         line=dict(color=mean_color, width=3.5), showlegend=False, yaxis="y"))
fig.add_trace(go.Scatter(x=times, y=t_oper, mode="lines", name="Oper",
                         line=dict(color=oper_color, width=3.5), showlegend=False, yaxis="y"))

# precipitation on right axis
for name, col, vals in zip(member_names, member_colors, rain_members):
    fig.add_trace(go.Scatter(x=times, y=vals, mode="lines", name=name,
                             line=dict(color=col, width=1), showlegend=False, yaxis="y2"))
fig.add_trace(go.Scatter(x=times, y=r_ctrl, mode="lines", name="Control",
                         line=dict(color=ctrl_color, width=3.5), showlegend=False, yaxis="y2"))
fig.add_trace(go.Scatter(x=times, y=r_mean, mode="lines", name="Ens. mean",
                         line=dict(color=mean_color, width=3.5), showlegend=False, yaxis="y2"))
fig.add_trace(go.Scatter(x=times, y=r_oper, mode="lines", name="Oper",
                         line=dict(color=oper_color, width=3.5), showlegend=False, yaxis="y2"))

# ---------------- layout ----------------
W, H = 850, 620
PLOT_L, PLOT_R, PLOT_T, PLOT_B = 163, 810, 30, 559     # pixels of the plot area
ML, MT = PLOT_L, PLOT_T
MR, MB = W - PLOT_R, H - PLOT_B
PW, PH = PLOT_R - PLOT_L, PLOT_B - PLOT_T


def px_x(px):
    return (px - PLOT_L) / PW


def px_y(py):
    return (PLOT_B - py) / PH


title_text = "De Bilt \u00a0(NL) \u00a02m Temp. & Neerslag | Fri, 21Aug2026 06Z"

fig.update_layout(
    width=W, height=H,
    paper_bgcolor="black", plot_bgcolor="black",
    margin=dict(l=ML, r=MR, t=MT, b=MB, autoexpand=False),
    font=dict(family="DejaVu Sans", color="white", size=10),
    showlegend=False,
    hovermode=False,
    title=dict(text=title_text, x=182 / W, xanchor="left", xref="container",
               y=1 - 12 / H, yanchor="middle", yref="container",
               font=dict(family="DejaVu Sans", size=15.4, color="white", weight="bold")),
    xaxis=dict(type="date", range=[x_start, x_end], tickformat="%d%b %Hz",
               tick0="2026-08-21", dtick=2 * 86400000,
               showgrid=True, gridcolor=grid_color, griddash="4px,4px", gridwidth=1,
               minor=dict(dtick=86400000, showgrid=True, gridcolor=grid_color,
                          griddash="4px,4px", gridwidth=1),
               showline=True, linecolor="white", linewidth=1, mirror=True,
               ticks="", ticklabelstandoff=4, zeroline=False,
               tickfont=dict(size=10.5, color="white"),
               title=dict(text="Date (UTC)", font=dict(size=10, color="white"), standoff=8)),
    yaxis=dict(range=[-10, 45], tick0=0, dtick=5,
               showgrid=True, gridcolor=grid_color, griddash="4px,4px", gridwidth=1,
               zeroline=True, zerolinecolor="white", zerolinewidth=1,
               showline=True, linecolor="white", linewidth=1, mirror=True,
               ticks="", ticklabelstandoff=6,
               tickfont=dict(size=10, color="white")),
    yaxis2=dict(overlaying="y", side="right", range=[0, 40], tick0=0, dtick=10,
                showgrid=False, zeroline=False,
                showline=True, linecolor="white", linewidth=1,
                ticks="inside", ticklen=5, tickcolor="white", tickwidth=1,
                minor=dict(dtick=1, ticks="inside", ticklen=5, tickcolor="white", tickwidth=1),
                ticklabelstandoff=8,
                tickfont=dict(size=10, color="white")),
)

# ---------------- legend (two columns, drawn in the left margin) ----------------
legend_left = [(member_names[k], member_colors[k]) for k in range(0, 30, 2)] + \
              [("Control", ctrl_color), ("Oper", oper_color)]
legend_right = [(member_names[k], member_colors[k]) for k in range(1, 30, 2)] + \
               [("Ens. mean", mean_color)]

shapes = []
annotations = []
row_top, row_step = 40, 15
for col_entries, sw0, sw1, tx in [(legend_left, 1, 10, 8), (legend_right, 55, 65, 64)]:
    for row, (name, col) in enumerate(col_entries):
        py = row_top + row_step * row
        shapes.append(dict(type="line", xref="paper", yref="paper",
                           x0=px_x(sw0), x1=px_x(sw1), y0=px_y(py), y1=px_y(py),
                           line=dict(color=col, width=2)))
        annotations.append(dict(text=name, xref="paper", yref="paper",
                                x=px_x(tx), y=px_y(py), xanchor="left", yanchor="middle",
                                showarrow=False, font=dict(size=10, color="white")))

# axis titles for the two value axes
annotations.append(dict(text="2m Temp. (°C)", xref="paper", yref="paper",
                        x=px_x(132), y=px_y(295), xanchor="center", yanchor="middle",
                        textangle=-90, showarrow=False, font=dict(size=10, color="white")))
annotations.append(dict(text="Neerslag (mm)", xref="paper", yref="paper",
                        x=px_x(840), y=px_y(296), xanchor="center", yanchor="middle",
                        textangle=-90, showarrow=False, font=dict(size=10, color="white")))

annotations.append(dict(text="GFS Ensemble, 52N, 5E", xref="paper", yref="paper",
                        x=px_x(118), y=px_y(598), xanchor="left", yanchor="middle",
                        showarrow=False, font=dict(size=16, color="#e0e0e0")))
annotations.append(dict(text="Wetterzentrale.de", xref="paper", yref="paper",
                        x=px_x(800), y=px_y(598), xanchor="right", yanchor="middle",
                        showarrow=False, font=dict(size=16, color="#e0e0e0")))

fig.update_layout(shapes=shapes, annotations=annotations)

# place the figure flush with the window corner (the page has a default body margin)
page_fix = "document.body.style.margin='0';document.body.style.overflow='hidden';"
fig.write_html("out.html", post_script=page_fix, config={"displayModeBar": False})
